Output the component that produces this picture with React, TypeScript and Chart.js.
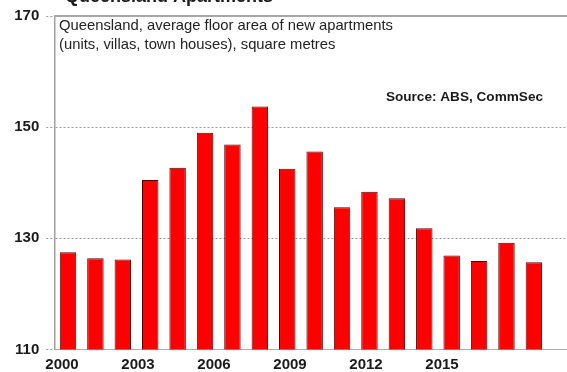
import React, { useEffect, useRef } from "react";
import { Chart, registerables } from "chart.js";

Chart.register(...registerables);

const years = [2000, 2001, 2002, 2003, 2004, 2005, 2006, 2007, 2008, 2009, 2010, 2011, 2012, 2013, 2014, 2015, 2016, 2017];
const floorArea = [127.5, 126.4, 126.2, 140.5, 142.7, 149.0, 146.9, 153.7, 142.5, 145.6, 135.6, 138.4, 137.2, 131.8, 126.9, 125.9, 129.2, 125.7];
const xTickYears = [2000, 2003, 2006, 2009, 2012, 2015];
const yTickValues = [110, 130, 150, 170];

const titleText = "Queensland Apartments";
const subtitleLines = [
  "Queensland, average floor area of new apartments",
  "(units, villas, town houses), square metres",
];
const sourceText = "Source: ABS, CommSec";

const FONT = '"Liberation Sans", Arial, sans-serif';

export default function App() {
  const canvasRef = useRef<HTMLCanvasElement | null>(null);

  useEffect(() => {
    const canvas = canvasRef.current;
    if (!canvas) return;

    const annotations = {
      id: "annotations",
      afterDraw(chart: any) {
        const { ctx, chartArea } = chart;
        ctx.save();
        ctx.strokeStyle = "#a8a8a8";
        ctx.lineWidth = 2;
        ctx.setLineDash([]);
        ctx.beginPath();
        ctx.moveTo(chartArea.left, chartArea.top);
        ctx.lineTo(chartArea.right, chartArea.top);
        ctx.stroke();

        ctx.fillStyle = "#1a1a1a";
        ctx.textAlign = "left";
        ctx.textBaseline = "alphabetic";
        ctx.font = `bold 18px ${FONT}`;
        ctx.fillText(titleText, 65, 2);

        ctx.font = `14.8px ${FONT}`;
        ctx.fillStyle = "#222";
        ctx.fillText(subtitleLines[0], 59, 30);
        ctx.fillText(subtitleLines[1], 59, 49);

        ctx.font = `bold 13.6px ${FONT}`;
        ctx.textAlign = "right";
        ctx.fillStyle = "#1a1a1a";
        ctx.fillText(sourceText, 543, 101);
        ctx.restore();
      },
    };

    const chart = new Chart(canvas, {
      type: "bar",
      data: {
        datasets: [
          {
            data: years.map((y, i) => ({ x: y, y: floorArea[i] })),
            xAxisID: "x",
            yAxisID: "y",
            backgroundColor: "#ff0000",
            borderColor: "#5a0000",
            borderWidth: 1,
            barPercentage: 0.6,
            categoryPercentage: 1,
          },
        ],
      },
      options: {
        responsive: false,
        animation: false,
        devicePixelRatio: 1,
        layout: { padding: { top: 13, right: 25, left: 0, bottom: 0 } },
        plugins: {
          legend: { display: false },
          tooltip: { enabled: false },
          title: { display: false },
        },
        scales: {
          x: {
            type: "linear",
            min: 1999.5,
            max: 2018.5,
            offset: false,
            grid: { offset: false },
            display: false,
          },
          xl: {
            type: "linear",
            position: "bottom",
            min: 1999.696,
            max: 2020.25,
            offset: false,
            afterBuildTicks: (scale: any) => {
              scale.ticks = xTickYears.map((v) => ({ value: v }));
            },
            afterFit: (scale: any) => {
              scale.height = 22.5;
            },
            grid: { display: true, offset: false, drawOnChartArea: false, drawTicks: false },
            border: { display: true, color: "#b0b0b0", width: 1 },
            ticks: {
              autoSkip: false,
              maxRotation: 0,
              padding: 6,
              color: "#1a1a1a",
              font: { family: FONT, size: 15, weight: "bold" },
              callback: (v: any) => String(v),
            },
          },
          y: {
            type: "linear",
            min: 110,
            max: 170,
            afterBuildTicks: (scale: any) => {
              scale.ticks = yTickValues.map((v) => ({ value: v }));
            },
            afterFit: (scale: any) => {
              scale.width = 54.3;
            },
            grid: {
              color: "#9a9a9a",
              lineWidth: 1,
              tickLength: 8,
              tickBorderDash: [2, 2],
              tickColor: "#9a9a9a",
            },
            border: { display: true, color: "#a0a0a0", width: 1.5, dash: [2, 2] },
            ticks: {
              padding: 7,
              color: "#1a1a1a",
              font: { family: FONT, size: 15, weight: "bold" },
              callback: (v: any) => String(v),
            },
          },
        },
      },
      plugins: [annotations],
    } as any);

    return () => chart.destroy();
  }, []);

  return (
    <div style={{ position: "fixed", left: 0, top: 0, width: 567, height: 372, overflow: "hidden", background: "#fff" }}>
      <canvas ref={canvasRef} width={600} height={372} style={{ width: 600, height: 372, display: "block" }} />
    </div>
  );
}
